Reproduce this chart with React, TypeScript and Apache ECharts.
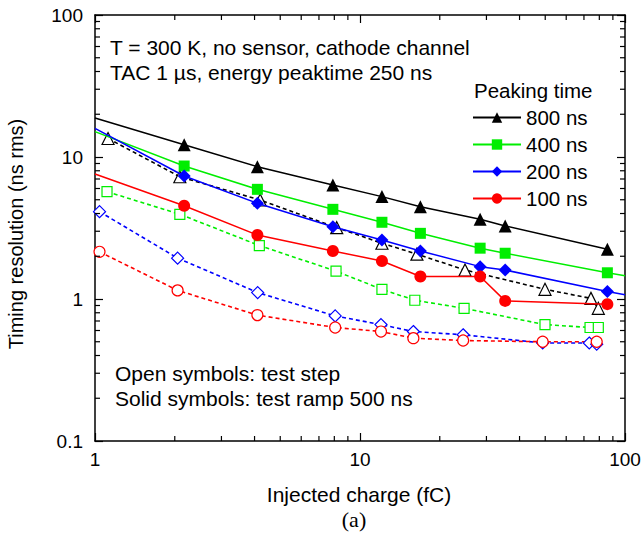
import React, { useEffect, useRef } from "react";
import * as echarts from "echarts";

// Solid symbols (test ramp 500 ns): charges of data points
const rampCharge = [2.17, 4.1, 7.9, 12.1, 16.9, 28.4, 35.3, 85.8];
// lines extend to the frame edges
const edgeLeft = 1;
const edgeRight = 100;
const ramp800 = [12.2, 8.55, 6.35, 5.26, 4.47, 3.64, 3.27, 2.24];
const ramp800Left = 18.8;
const ramp400 = [8.64, 5.92, 4.28, 3.47, 2.9, 2.28, 2.1, 1.53];
const ramp400Left = 15.1;
const ramp400Right = 1.46;
const ramp200 = [7.35, 4.72, 3.23, 2.6, 2.18, 1.69, 1.6, 1.13];
const ramp200Left = 15.9;
const ramp200Right = 1.07;
const ramp100 = [4.54, 2.82, 2.18, 1.85, 1.44, 1.44, 0.97, 0.92];
const ramp100Left = 7.6;

// Open symbols (test step)
const step800X = [1.12, 2.09, 4.2, 8.17, 12.1, 16.4, 24.9, 49.9, 74.4, 79.3];
const step800Y = [13.5, 7.26, 4.98, 3.18, 2.47, 2.07, 1.6, 1.17, 1.01, 0.86];
const step400X = [1.11, 2.09, 4.17, 8.12, 12.1, 16.1, 24.7, 49.9, 73.8, 79.3];
const step400Y = [5.7, 3.95, 2.38, 1.57, 1.17, 0.98, 0.86, 0.66, 0.63, 0.63];
const step200X = [1.04, 2.05, 4.11, 8.06, 12.0, 15.9, 24.5, 48.9, 73.3, 78.2];
const step200Y = [4.12, 1.94, 1.11, 0.76, 0.66, 0.59, 0.56, 0.49, 0.49, 0.48];
const step100X = [1.04, 2.05, 4.1, 8.06, 12.0, 15.9, 24.5, 48.9, 78.2];
const step100Y = [2.15, 1.15, 0.77, 0.63, 0.59, 0.53, 0.51, 0.5, 0.5];

const legendNames = ["800 ns", "400 ns", "200 ns", "100 ns"];
const xMin = 1;
const xMax = 100;
const yMin = 0.1;
const yMax = 100;
const xMinor = [2, 3, 4, 5, 6, 7, 8, 9, 20, 30, 40, 50, 60, 70, 80, 90];
const yMinor = [0.2, 0.3, 0.4, 0.5, 0.6, 0.7, 0.8, 0.9, 2, 3, 4, 5, 6, 7, 8, 9, 20, 30, 40, 50, 60, 70, 80, 90];

const FONT = "'Liberation Sans', Arial, sans-serif";
const BLACK = "#000000";
const GREEN = "#00ee00";
const BLUE = "#0000ff";
const RED = "#ff0000";

function zip(xs: number[], ys: number[]) {
  return xs.map((x, i) => [x, ys[i]]);
}

function rampData(left: number, ys: number[], right?: number) {
  const d: any[] = [{ value: [edgeLeft, left], symbol: "none" }];
  ys.forEach((y, i) => d.push([rampCharge[i], y]));
  if (right !== undefined) d.push({ value: [edgeRight, right], symbol: "none" });
  return d;
}

export default function App() {
  const ref = useRef<HTMLDivElement>(null);
  useEffect(() => {
    document.body.style.margin = "0";
    const chart = echarts.init(ref.current!, undefined, { renderer: "svg" });

    const solid = (name: string, color: string, symbol: string, size: number, data: any[]) => ({
      name,
      type: "line",
      data,
      symbol,
      symbolSize: size,
      itemStyle: { color },
      lineStyle: { color, width: 1.5 },
      z: 5,
    });
    const open = (name: string, color: string, symbol: string, size: number, data: any[]) => ({
      name,
      type: "line",
      data,
      symbol,
      symbolSize: size,
      itemStyle: { color: "#ffffff", borderColor: color, borderWidth: 1.2 },
      lineStyle: { color, width: 1.6, type: [4, 3] },
      z: 3,
    });

    const axisCommon = {
      type: "log",
      logBase: 10,
      axisLine: { show: true, lineStyle: { color: BLACK, width: 1.5 } },
      axisTick: { show: true, inside: true, length: 8, lineStyle: { color: BLACK, width: 1.2 } },
      splitLine: { show: false },
      minorTick: { show: false },
    };

    const txt = (text: string, x: number, y: number, size = 21) => ({
      type: "text",
      x,
      y,
      style: { text, fontSize: size, fontFamily: FONT, fill: BLACK, align: "left", verticalAlign: "middle" },
    });

    chart.setOption({
      animation: false,
      backgroundColor: "#ffffff",
      grid: { left: 95, right: 19, top: 15, bottom: 97, containLabel: false },
      xAxis: [
        {
          ...axisCommon,
          min: xMin,
          max: xMax,
          position: "bottom",
          axisLabel: { fontSize: 19, fontFamily: FONT, color: BLACK, margin: 9 },
        },
        {
          ...axisCommon,
          min: xMin,
          max: xMax,
          position: "top",
          axisLabel: { show: false },
        },
      ],
      yAxis: [
        {
          ...axisCommon,
          min: yMin,
          max: yMax,
          position: "left",
          axisLabel: { fontSize: 19, fontFamily: FONT, color: BLACK, margin: 12 },
        },
        {
          ...axisCommon,
          min: yMin,
          max: yMax,
          position: "right",
          axisLabel: { show: false },
        },
      ],
      legend: {
        data: legendNames,
        orient: "vertical",
        left: 472,
        top: 107,
        padding: 0,
        itemWidth: 48,
        itemHeight: 13,
        itemGap: 6,
        textStyle: { fontSize: 20.5, fontFamily: FONT, color: BLACK, lineHeight: 20 },
        selectedMode: false,
      },
      graphic: [
        txt("T = 300 K, no sensor, cathode channel", 110, 47),
        txt("TAC 1 µs, energy peaktime 250 ns", 110, 72),
        txt("Peaking time", 474, 90, 20.5),
        txt("Open symbols: test step", 115, 373),
        txt("Solid symbols: test ramp 500 ns", 115, 398),
        { type: "text", x: 16, y: 234, rotation: Math.PI / 2, style: { text: "Timing resolution (ns rms)", fontSize: 20, fontFamily: FONT, fill: BLACK, align: "center", verticalAlign: "middle" } },
        { type: "text", x: 359, y: 494, style: { text: "Injected charge (fC)", fontSize: 21, fontFamily: FONT, fill: BLACK, align: "center", verticalAlign: "middle" } },
        { type: "text", x: 354, y: 519, style: { text: "(a)", fontSize: 22, fontFamily: "'Liberation Serif', 'Times New Roman', serif", fill: BLACK, align: "center", verticalAlign: "middle" } },
      ],
      series: [
        open("800 ns step", BLACK, "triangle", 12, zip(step800X, step800Y)),
        open("400 ns step", GREEN, "rect", 10, zip(step400X, step400Y)),
        open("200 ns step", BLUE, "diamond", 12, zip(step200X, step200Y)),
        open("100 ns step", RED, "circle", 11, zip(step100X, step100Y)),
        solid("800 ns", BLACK, "triangle", 13, rampData(ramp800Left, ramp800)),
        solid("400 ns", GREEN, "rect", 11, rampData(ramp400Left, ramp400, ramp400Right)),
        solid("200 ns", BLUE, "diamond", 13, rampData(ramp200Left, ramp200, ramp200Right)),
        solid("100 ns", RED, "circle", 12, rampData(ramp100Left, ramp100)),
        {
          type: "custom",
          name: "xMinorTicks",
          silent: true,
          clip: false,
          z: 10,
          data: xMinor.map((v) => [v, 1]),
          renderItem: (_p: any, api: any) => {
            const v = api.value(0);
            const b = api.coord([v, yMin]);
            const t = api.coord([v, yMax]);
            const st = { stroke: BLACK, lineWidth: 1.2 };
            return {
              type: "group",
              children: [
                { type: "line", shape: { x1: b[0], y1: b[1], x2: b[0], y2: b[1] - 5 }, style: st },
                { type: "line", shape: { x1: t[0], y1: t[1], x2: t[0], y2: t[1] + 5 }, style: st },
              ],
            };
          },
        },
        {
          type: "custom",
          name: "yMinorTicks",
          silent: true,
          clip: false,
          z: 10,
          data: yMinor.map((v) => [1, v]),
          renderItem: (_p: any, api: any) => {
            const v = api.value(1);
            const l = api.coord([xMin, v]);
            const r = api.coord([xMax, v]);
            const st = { stroke: BLACK, lineWidth: 1.2 };
            return {
              type: "group",
              children: [
                { type: "line", shape: { x1: l[0], y1: l[1], x2: l[0] + 5, y2: l[1] }, style: st },
                { type: "line", shape: { x1: r[0], y1: r[1], x2: r[0] - 5, y2: r[1] }, style: st },
              ],
            };
          },
        },
      ],
    });
    return () => chart.dispose();
  }, []);
  return <div ref={ref} style={{ width: 644, height: 538 }} />;
}
